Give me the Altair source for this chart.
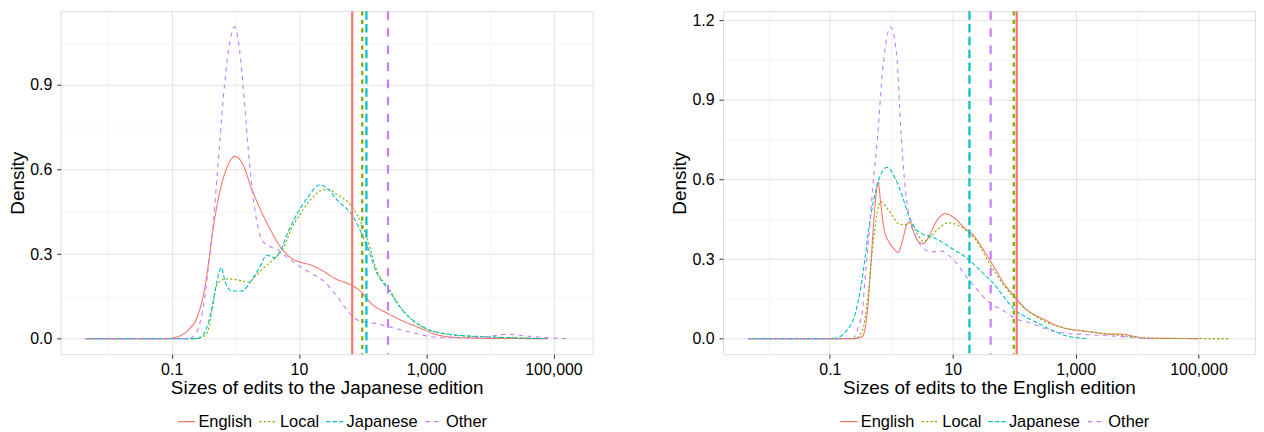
import altair as alt
import pandas as pd

FONT = "Liberation Sans"

groups = ["English", "Local", "Japanese", "Other"]
colors = ["#F8766D", "#7CAE00", "#00BFC4", "#C77CFF"]
curve_dash = [[1, 0], [2.2, 2.2], [4.4, 2.2], [4.4, 4.4]]
vline_dash = [[1, 0], [4.3, 4.3], [8.6, 4.3], [8.6, 8.6]]
key_shape = "M-1,0H1"

# ---------- Panel 1: edits to the Japanese edition (x as log10 of size) ----------
ja_en_lx = [-2.354, -1.1, -0.99, -0.85, -0.733, -0.577, -0.472, -0.42, -0.342, -0.264, -0.16, -0.07, 0.0, 0.127, 0.256, 0.413, 0.569, 0.725, 0.881, 1.04, 1.19, 1.35, 1.56, 1.82, 1.975, 2.13, 2.39, 2.65, 2.91, 3.17, 3.49, 4.0, 4.9]
ja_en_d = [0, 0, 0.002, 0.012, 0.032, 0.09, 0.19, 0.27, 0.40, 0.50, 0.59, 0.635, 0.647, 0.614, 0.532, 0.449, 0.379, 0.32, 0.285, 0.27, 0.261, 0.244, 0.214, 0.19, 0.167, 0.126, 0.09, 0.061, 0.037, 0.014, 0.004, 0.001, 0]

ja_lo_lx = [-2.354, -0.62, -0.55, -0.472, -0.42, -0.369, -0.29, -0.213, -0.108, 0.048, 0.205, 0.334, 0.466, 0.622, 0.752, 0.881, 1.04, 1.194, 1.35, 1.455, 1.58, 1.86, 2.0, 2.08, 2.21, 2.42, 2.6, 2.81, 3.02, 3.38, 3.9, 4.4, 4.9]
ja_lo_d = [0, 0, 0.003, 0.012, 0.035, 0.096, 0.19, 0.208, 0.212, 0.208, 0.2, 0.226, 0.255, 0.285, 0.32, 0.39, 0.449, 0.496, 0.526, 0.53, 0.514, 0.46, 0.40, 0.35, 0.25, 0.175, 0.11, 0.06, 0.033, 0.014, 0.006, 0.003, 0]

ja_ja_lx = [-2.354, -0.62, -0.55, -0.472, -0.42, -0.369, -0.29, -0.222, -0.159, -0.056, 0.1, 0.256, 0.387, 0.49, 0.56, 0.622, 0.7, 0.83, 0.986, 1.14, 1.325, 1.455, 1.584, 1.86, 2.0, 2.08, 2.21, 2.42, 2.6, 2.81, 3.02, 3.38, 3.9, 4.4, 4.9]
ja_ja_d = [0, 0, 0.005, 0.026, 0.06, 0.108, 0.202, 0.252, 0.202, 0.169, 0.169, 0.208, 0.255, 0.296, 0.292, 0.287, 0.308, 0.379, 0.449, 0.502, 0.546, 0.532, 0.496, 0.43, 0.365, 0.325, 0.24, 0.17, 0.108, 0.062, 0.034, 0.015, 0.007, 0.003, 0]

ja_ot_lx = [-2.354, -0.75, -0.65, -0.577, -0.498, -0.42, -0.342, -0.264, -0.17, -0.08, -0.01, 0.069, 0.14, 0.2, 0.29, 0.387, 0.466, 0.56, 0.673, 0.83, 0.986, 1.19, 1.4, 1.58, 1.82, 1.95, 2.18, 2.5, 2.81, 3.12, 3.6, 4.0, 4.27, 4.64, 5.0, 5.2]
ja_ot_d = [0, 0, 0.01, 0.04, 0.12, 0.26, 0.42, 0.64, 0.9, 1.06, 1.106, 1.02, 0.85, 0.68, 0.485, 0.367, 0.337, 0.325, 0.314, 0.285, 0.261, 0.232, 0.202, 0.155, 0.085, 0.063, 0.055, 0.037, 0.02, 0.006, 0.003, 0.008, 0.016, 0.008, 0.002, 0]

ja_vlines = [68.8, 98.6, 115, 251]

# ---------- Panel 2: edits to the English edition ----------
en_en_lx = [-2.334, -0.6, -0.47, -0.39, -0.337, -0.283, -0.212, -0.175, -0.12, -0.04, 0.04, 0.11, 0.176, 0.257, 0.3, 0.364, 0.445, 0.526, 0.607, 0.743, 0.877, 1.04, 1.2, 1.335, 1.52, 1.686, 1.85, 2.01, 2.17, 2.33, 2.5, 2.66, 2.87, 3.09, 3.3, 3.52, 3.74, 3.95, 4.11, 4.5, 5.01]
en_en_d = [0, 0, 0.009, 0.102, 0.265, 0.452, 0.59, 0.515, 0.415, 0.365, 0.34, 0.325, 0.365, 0.433, 0.44, 0.402, 0.365, 0.359, 0.384, 0.446, 0.471, 0.452, 0.415, 0.39, 0.327, 0.265, 0.202, 0.159, 0.115, 0.09, 0.071, 0.052, 0.037, 0.03, 0.024, 0.017, 0.017, 0.009, 0.002, 0.001, 0]

en_lo_lx = [-2.334, -0.6, -0.47, -0.39, -0.31, -0.228, -0.175, -0.066, 0.015, 0.12, 0.23, 0.31, 0.42, 0.526, 0.634, 0.77, 0.93, 1.09, 1.25, 1.36, 1.58, 1.85, 2.01, 2.28, 2.5, 2.82, 3.2, 3.63, 3.95, 4.11, 4.6, 5.51]
en_lo_d = [0, 0, 0.03, 0.14, 0.327, 0.477, 0.517, 0.49, 0.465, 0.433, 0.43, 0.437, 0.396, 0.367, 0.384, 0.415, 0.437, 0.427, 0.402, 0.377, 0.29, 0.196, 0.152, 0.096, 0.065, 0.04, 0.027, 0.015, 0.006, 0.003, 0.001, 0]

en_ja_lx = [-2.334, -1.0, -0.903, -0.74, -0.58, -0.5, -0.43, -0.364, -0.283, -0.2, -0.066, 0.068, 0.176, 0.283, 0.39, 0.5, 0.66, 0.82, 0.985, 1.2, 1.36, 1.47, 1.686, 1.85, 2.01, 2.225, 2.44, 2.66, 2.87, 3.09, 3.2]
en_ja_d = [0, 0, 0.002, 0.027, 0.1, 0.19, 0.3, 0.42, 0.527, 0.602, 0.646, 0.602, 0.54, 0.465, 0.415, 0.396, 0.384, 0.365, 0.34, 0.309, 0.277, 0.252, 0.202, 0.152, 0.109, 0.077, 0.052, 0.027, 0.009, 0.002, 0]

en_ot_lx = [-2.334, -0.62, -0.526, -0.47, -0.445, -0.364, -0.283, -0.228, -0.14, -0.05, -0.013, 0.084, 0.165, 0.23, 0.31, 0.39, 0.5, 0.66, 0.82, 0.93, 1.04, 1.2, 1.335, 1.58, 1.85, 2.01, 2.28, 2.55, 2.82, 3.2, 3.52, 3.9, 4.24]
en_ot_d = [0, 0, 0.052, 0.1, 0.177, 0.39, 0.62, 0.75, 1.015, 1.16, 1.175, 1.077, 0.75, 0.56, 0.44, 0.39, 0.346, 0.327, 0.33, 0.315, 0.29, 0.24, 0.202, 0.14, 0.102, 0.077, 0.058, 0.034, 0.021, 0.015, 0.011, 0.005, 0]

en_vlines = [110, 98.6, 18.7, 41.4]

x_ticks = [0.01, 0.1, 1, 10, 100, 1000, 10000, 100000]


def curves_df(series):
    frames = []
    for g, (lx, d) in zip(groups, series):
        f = pd.DataFrame({"lx": lx, "d": d})
        f["x"] = 10.0 ** f["lx"]
        f["group"] = g
        frames.append(f)
    return pd.concat(frames, ignore_index=True)


def panel(series, vlines, xtitle, xdomain, ydomain, yticks):
    df = curves_df(series)
    minor_x = "indexof([0.01,1,100,10000], datum.value) >= 0"
    x_axis = alt.Axis(
        values=x_ticks,
        labelExpr="indexof([0.1,10,1000,100000], datum.value) >= 0 ? format(datum.value, ',') : ''",
        title=xtitle, titleFontSize=19, titleFont=FONT, titleFontWeight="normal",
        titleColor="black", titlePadding=1,
        labelFont=FONT, labelFontSize=16, labelColor="black", labelPadding=3,
        labelOverlap=False, labelFlush=False,
        tickSize=4, tickColor="#333333", tickWidth=1,
        tickOpacity={"condition": {"test": minor_x, "value": 0}, "value": 1},
        gridColor={"condition": {"test": minor_x, "value": "#F4F4F4"}, "value": "#E3E3E3"},
        gridWidth=1, domain=False,
    )
    minor_y = "round(datum.value*100) % 30 != 0"
    y_axis = alt.Axis(
        values=yticks,
        labelExpr="round(datum.value*100) % 30 == 0 ? format(datum.value, '.1f') : ''",
        title="Density", titleFontSize=19, titleFont=FONT, titleFontWeight="normal",
        titleColor="black", titlePadding=2,
        labelFont=FONT, labelFontSize=16, labelColor="black", labelPadding=5,
        labelOverlap=False, labelFlush=False,
        tickSize=4, tickColor="#333333", tickWidth=1,
        tickOpacity={"condition": {"test": minor_y, "value": 0}, "value": 1},
        gridColor={"condition": {"test": minor_y, "value": "#F4F4F4"}, "value": "#E3E3E3"},
        gridWidth=1, domain=False,
    )
    xs = alt.Scale(type="log", domain=xdomain, nice=False)
    ys = alt.Scale(domain=ydomain, nice=False, zero=False)
    X = alt.X("x:Q", scale=xs, axis=x_axis)
    Y = alt.Y("d:Q", scale=ys, axis=y_axis)

    # symbolStrokeColor is only a fallback: the colour scale overrides it on the key,
    # so keys never fall back to a grey base colour
    leg = alt.Legend(
        orient="none", legendX=117, legendY=403.2, direction="horizontal",
        title=None, symbolSize=300, labelFont=FONT, labelFontSize=16.5,
        labelColor="black", labelOffset=2.5, columnPadding=4, padding=0,
        rowPadding=0, symbolStrokeWidth=1.3, symbolStrokeColor="transparent",
        symbolFillColor="transparent",
    )
    color_enc = alt.Color("group:N", scale=alt.Scale(domain=groups, range=colors), legend=leg)
    dash_enc = alt.StrokeDash("group:N", scale=alt.Scale(domain=groups, range=curve_dash), legend=leg)

    lines = alt.Chart(df).mark_line(strokeWidth=1.1, interpolate="monotone").encode(
        x=X, y=Y, color=color_enc, strokeDash=dash_enc, detail="group:N",
    )

    layers = [lines]
    for g, c, dash, v in zip(groups, colors, vline_dash, vlines):
        vdf = pd.DataFrame({"x": [v], "group": [g]})
        layers.append(alt.Chart(vdf).mark_rule(color=c, strokeWidth=2.2, strokeDash=dash).encode(x=X))

    # clipped, invisible helper: gives the legend its horizontal line key shape
    kdf = pd.DataFrame({"x": [1.0] * 4, "d": [-1.0] * 4, "group": groups})
    keys = alt.Chart(kdf).mark_point(clip=True, filled=False, opacity=1, strokeWidth=1.1).encode(
        x=X, y=Y, color=color_enc, strokeDash=dash_enc,
        shape=alt.Shape("group:N", scale=alt.Scale(domain=groups, range=[key_shape] * 4), legend=leg),
    )
    layers.append(keys)
    return alt.layer(*layers).properties(width=535, height=345)


yt = [0, 0.15, 0.3, 0.45, 0.6, 0.75, 0.9, 1.05]
yt2 = [0, 0.15, 0.3, 0.45, 0.6, 0.75, 0.9, 1.05, 1.2]

left = panel(
    [(ja_en_lx, ja_en_d), (ja_lo_lx, ja_lo_d), (ja_ja_lx, ja_ja_d), (ja_ot_lx, ja_ot_d)],
    ja_vlines, "Sizes of edits to the Japanese edition",
    [0.001803, 414000], [-0.0553, 1.1617], yt,
)
right = panel(
    [(en_en_lx, en_en_d), (en_lo_lx, en_lo_d), (en_ja_lx, en_ja_d), (en_ot_lx, en_ot_d)],
    en_vlines, "Sizes of edits to the English edition",
    [0.00182, 831800], [-0.0588, 1.2349], yt2,
)

chart = alt.hconcat(left, right, spacing=77).resolve_scale(
    x="independent", y="independent", color="independent",
    strokeDash="independent", shape="independent",
).properties(padding=0).configure_view(
    stroke="#7F7F7F", strokeWidth=1
).configure(font=FONT, background="white")

chart.save("out.html", embed_options={"renderer": "svg", "actions": False})
